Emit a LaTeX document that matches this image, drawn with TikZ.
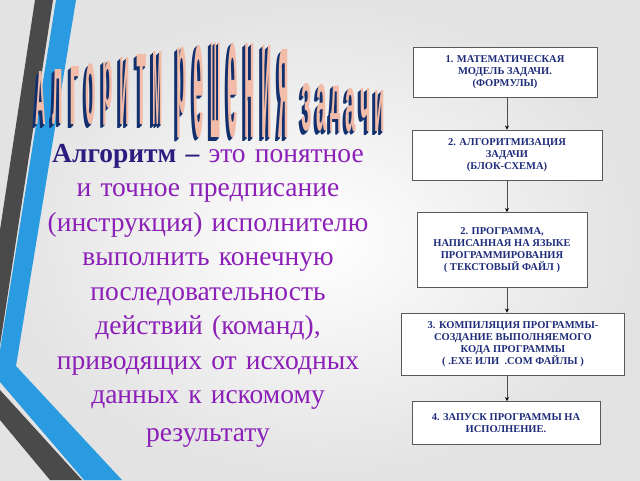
\documentclass[tikz,border=0pt]{standalone}
\usepackage{fontspec}
\usepackage{graphicx}
\usetikzlibrary{arrows.meta}
\setmainfont{Liberation Serif}
\newfontfamily\serifx{Liberation Serif}
\newfontfamily\ttlfont{Liberation Sans}
\definecolor{navyx}{HTML}{12306E}
\definecolor{peachx}{HTML}{F2BCA8}
\definecolor{boxtxt}{HTML}{1E2C7A}
\definecolor{purpx}{HTML}{8B1FB8}
\definecolor{indx}{HTML}{2B1D7E}
\definecolor{bluestr}{HTML}{2A9BE0}
\definecolor{graystr}{HTML}{4A4A4A}
\begin{document}
\begin{tikzpicture}[x=1pt,y=-1pt,
  stepbox/.style={draw=gray!70!black,fill=white,line width=0.9pt,align=center,
    text=boxtxt,font=\serifx\fontsize{10.5}{12}\selectfont\bfseries,inner sep=2pt},
  flow/.style={draw=gray!60!black,line width=0.9pt,-{Stealth[length=4pt,width=4pt,black]}}]
\useasboundingbox (0,0) rectangle (640,480);
\shade[inner color=white,outer color=gray!22] (0,0) rectangle (640,480);
% stripes
\fill[graystr] (35,0) -- (53,0) -- (0,345) -- (0,230) -- cycle;
\fill[graystr] (0,390) -- (82,480) -- (50,480) -- (0,420) -- cycle;
\fill[bluestr] (56,0) -- (76,0) -- (16,366) -- (122,480) -- (84,480) -- (0,382) -- (0,350) -- cycle;
% title
\foreach \c/\x/\t/\b in {А/41/72/125,л/58/70/125,г/75/67/125,о/91/64/125,р/108/61/125,и/125/58/125,т/142/55/125,м/158/52/125,
  р/182/47/138,е/199/45/138,ш/216/43/138,е/233/43/138,н/250/44/138,и/267/46/138,я/284/50/138,
  з/307/84/132,а/322/85/132,д/336/86/132,а/351/88/132,ч/366/89/132,и/380/91/132}{
  \pgfmathsetmacro\hh{\b-\t}
  \foreach \d in {3.5,2.5,1.5}{
    \node[anchor=south,inner sep=0,text=navyx] (sh) at (\x-\d,\b+\d) {\resizebox*{10.5pt}{\hh pt}{\ttlfont\bfseries \c}};
  }
  \node[anchor=south,inner sep=0,text=peachx] (lt) at (\x,\b) {\resizebox*{10.5pt}{\hh pt}{\ttlfont\bfseries \c}};
}
% left text
\node[anchor=north,align=center,text width=360pt,inner sep=0,
  font=\serifx\fontsize{27.5}{34.5}\selectfont,text=purpx] (def) at (208,144)
  {{\color{indx}\bfseries Алгоритм –} это понятное\\ и точное предписание\\ (инструкция) исполнителю\\ выполнить конечную\\ последовательность\\ действий (команд),\\ приводящих от исходных\\ данных к искомому\\[3pt] результату};
% flowchart
\node[stepbox,minimum width=184pt,minimum height=50pt] (b1) at (505,72) {1. МАТЕМАТИЧЕСКАЯ\\ МОДЕЛЬ ЗАДАЧИ.\\ (ФОРМУЛЫ)};
\node[stepbox,minimum width=190pt,minimum height=50pt] (b2) at (507,155) {2. АЛГОРИТМИЗАЦИЯ\\ ЗАДАЧИ\\ (БЛОК-СХЕМА)};
\node[stepbox,minimum width=170pt,minimum height=75pt] (b3) at (502,250) {2. ПРОГРАММА,\\ НАПИСАННАЯ НА ЯЗЫКЕ\\ ПРОГРАММИРОВАНИЯ\\ ( ТЕКСТОВЫЙ ФАЙЛ )};
\node[stepbox,minimum width=223pt,minimum height=62pt] (b4) at (513,344) {3. КОМПИЛЯЦИЯ ПРОГРАММЫ-\\ СОЗДАНИЕ ВЫПОЛНЯЕМОГО\\ КОДА ПРОГРАММЫ\\ ( .EXE ИЛИ \ .COM ФАЙЛЫ )};
\node[stepbox,minimum width=188pt,minimum height=43pt] (b5) at (506,423) {4. ЗАПУСК ПРОГРАММЫ НА\\ ИСПОЛНЕНИЕ.};
\coordinate (ax) at (507,0);
\draw[flow] (ax |- b1.south) -- (ax |- b2.north);
\draw[flow] (ax |- b2.south) -- (ax |- b3.north);
\draw[flow] (ax |- b3.south) -- (ax |- b4.north);
\draw[flow] (ax |- b4.south) -- (ax |- b5.north);
\end{tikzpicture}
\end{document}
